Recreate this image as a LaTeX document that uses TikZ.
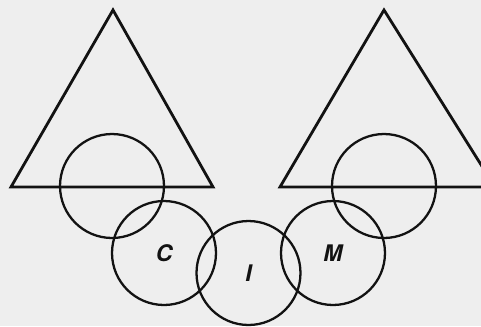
\documentclass[tikz,border=0pt]{standalone}
\usepackage{fontspec}
\setsansfont{TeX Gyre Heros}
\definecolor{paperGrey}{RGB}{238,238,238}
\definecolor{inkBlack}{RGB}{18,18,18}

\begin{document}
\begin{tikzpicture}[x=0.02cm,y=-0.02cm,
  ring/.style={circle,draw=inkBlack,line width=1.3pt,minimum size=2.08cm,inner sep=0pt,
    text=inkBlack,font=\sffamily\bfseries\itshape\fontsize{13}{15}\selectfont},
  tri/.style={draw=inkBlack,line width=1.6pt,line join=miter}]
\useasboundingbox (0,0) rectangle (481,326);
\clip (0,0) rectangle (481,326);
\fill[paperGrey] (0,0) rectangle (481,326);
% the two triangles
\draw[tri] (113,10) -- (213,187) -- (11,187) -- cycle;
\draw[tri] (384,10) -- (495,187) -- (280,187) -- cycle;
% the chain of rings
\node[ring] (left) at (112,186) {};
\node[ring] (right) at (384,186) {};
\node[ring] (c) at (164,253) {C};
\node[ring] (i) at (248.5,273) {\raisebox{-2pt}{I}};
\node[ring] (m) at (333,253) {\raisebox{-2pt}{M}};
\end{tikzpicture}
\end{document}
